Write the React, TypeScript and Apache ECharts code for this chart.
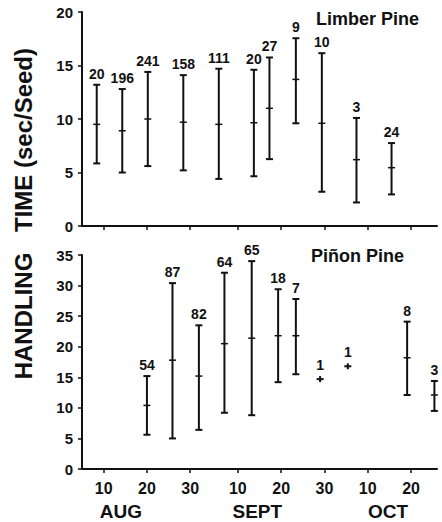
import React, { useEffect, useRef } from "react";
import * as echarts from "echarts";

// x values are days counted from 31 July (Aug 10 = 10, Sep 10 = 41, Oct 10 = 71)
const TICK_DAYS = [10, 20, 30, 41, 51, 61, 71, 81];
const TICK_LABELS = ["10", "20", "30", "10", "20", "30", "10", "20"];
const MONTH_DAYS = [14, 45.5, 75.7];
const MONTH_LABELS = ["AUG", "SEPT", "OCT"];

const LIMBER_DAY = [8.4, 14.3, 20.2, 28.4, 36.6, 44.7, 48.3, 54.4, 60.4, 68.4, 76.5];
const LIMBER_N = [20, 196, 241, 158, 111, 20, 27, 9, 10, 3, 24];
const LIMBER_MEAN = [9.5, 8.9, 10.0, 9.7, 9.5, 9.65, 11.0, 13.7, 9.6, 6.2, 5.45];
const LIMBER_LOW = [5.85, 5.0, 5.6, 5.2, 4.4, 4.65, 6.25, 9.6, 3.2, 2.2, 2.95];
const LIMBER_HIGH = [13.2, 12.8, 14.4, 14.1, 14.7, 14.6, 15.75, 17.55, 16.15, 10.1, 7.75];

const PINON_DAY = [20.0, 25.9, 32.0, 37.9, 44.2, 50.3, 54.4, 60.0, 66.4, 80.1, 86.4];
const PINON_N = [54, 87, 82, 64, 65, 18, 7, 1, 1, 8, 3];
const PINON_MEAN = [10.4, 17.8, 15.2, 20.5, 21.4, 21.8, 21.8, 14.7, 16.8, 18.2, 12.1];
const PINON_LOW = [5.6, 5.0, 6.4, 9.2, 8.8, 14.2, 15.5, null, null, 12.1, 9.5];
const PINON_HIGH = [15.2, 30.4, 23.5, 32.1, 34.0, 29.4, 27.8, null, null, 24.1, 14.4];

const FONT = '"Liberation Sans", Arial, Helvetica, sans-serif';
const INK = "#111";

function makeRender(
  days: number[],
  mean: number[],
  low: (number | null)[],
  high: (number | null)[],
  ns: number[]
) {
  return (params: any, api: any) => {
    const i = params.dataIndex;
    const m = api.coord([days[i], mean[i]]);
    const cx = m[0];
    const children: any[] = [];
    const line = (x1: number, y1: number, x2: number, y2: number, w: number) => ({
      type: "line",
      shape: { x1, y1, x2, y2 },
      style: { stroke: INK, lineWidth: w },
    });
    let topY: number;
    if (low[i] == null || high[i] == null) {
      children.push(line(cx - 3.5, m[1], cx + 3.5, m[1], 2));
      children.push(line(cx, m[1] - 3, cx, m[1] + 3, 2));
      topY = m[1] - 3;
    } else {
      const lo = api.coord([days[i], low[i]]);
      const hi = api.coord([days[i], high[i]]);
      children.push(line(cx, hi[1], cx, lo[1], 2));
      children.push(line(cx - 3.5, hi[1], cx + 3.5, hi[1], 2));
      children.push(line(cx - 3.5, lo[1], cx + 3.5, lo[1], 2));
      children.push(line(cx - 3.5, m[1], cx + 3.5, m[1], 1.5));
      topY = hi[1];
    }
    children.push({
      type: "text",
      x: cx,
      y: topY - 4,
      style: {
        text: String(ns[i]),
        fill: INK,
        font: `bold 14px ${FONT}`,
        align: "center",
        verticalAlign: "bottom",
      },
    });
    return { type: "group", children };
  };
}

export default function App() {
  const ref = useRef<HTMLDivElement>(null);
  useEffect(() => {
    if (!ref.current) return;
    const chart = echarts.init(ref.current, undefined, { renderer: "svg" });
    const axisLine = { show: true, lineStyle: { color: INK, width: 2 } };
    const xBase = {
      type: "value" as const,
      min: 5,
      max: 87,
      axisLine: { ...axisLine, onZero: false },
      splitLine: { show: false },
      axisTick: {
        show: true,
        inside: false,
        length: 4,
        customValues: TICK_DAYS,
        lineStyle: { color: INK, width: 1.5 },
      },
    };
    const yBase = {
      type: "value" as const,
      min: 0,
      interval: 5,
      axisLine,
      splitLine: { show: false },
      axisTick: { show: true, inside: false, length: 4, lineStyle: { color: INK, width: 1.5 } },
      axisLabel: { color: INK, fontSize: 15, fontWeight: "bold", fontFamily: FONT, margin: 9 },
    };
    chart.setOption({
      animation: false,
      backgroundColor: "#fff",
      grid: [
        { left: 82, top: 12, width: 355, height: 214 },
        { left: 82, top: 255, width: 355, height: 214 },
      ],
      title: [
        {
          text: "Limber Pine",
          left: 316,
          top: 10,
          padding: 0,
          textStyle: { color: INK, fontSize: 18, fontWeight: "bold", fontFamily: FONT },
        },
        {
          text: "Piñon Pine",
          left: 311,
          top: 247,
          padding: 0,
          textStyle: { color: INK, fontSize: 18, fontWeight: "bold", fontFamily: FONT },
        },
      ],
      xAxis: [
        { ...xBase, gridIndex: 0, axisLabel: { show: false } },
        {
          ...xBase,
          gridIndex: 1,
          axisLabel: {
            show: true,
            customValues: TICK_DAYS,
            formatter: (v: number) => TICK_LABELS[TICK_DAYS.indexOf(v)] ?? "",
            color: INK,
            fontSize: 16,
            fontWeight: "bold",
            fontFamily: FONT,
            margin: 11,
          },
        },
        {
          type: "value",
          gridIndex: 1,
          min: 5,
          max: 87,
          position: "bottom",
          axisLine: { show: false },
          axisTick: { show: false },
          splitLine: { show: false },
          axisLabel: {
            show: true,
            customValues: MONTH_DAYS,
            formatter: (v: number) => MONTH_LABELS[MONTH_DAYS.indexOf(v)] ?? "",
            color: INK,
            fontSize: 19,
            fontWeight: "bold",
            fontFamily: FONT,
            margin: 33,
          },
        },
      ],
      yAxis: [
        { ...yBase, gridIndex: 0, max: 20 },
        { ...yBase, gridIndex: 1, max: 35 },
      ],
      graphic: [
        {
          type: "text",
          x: 23,
          y: 140,
          rotation: Math.PI / 2,
          style: {
            text: "TIME (sec/Seed)",
            fill: INK,
            font: `bold 24px ${FONT}`,
            align: "center",
            verticalAlign: "middle",
          },
        },
        {
          type: "text",
          x: 23,
          y: 316,
          rotation: Math.PI / 2,
          style: {
            text: "HANDLING",
            fill: INK,
            font: `bold 24px ${FONT}`,
            align: "center",
            verticalAlign: "middle",
          },
        },
      ],
      series: [
        {
          type: "custom",
          xAxisIndex: 0,
          yAxisIndex: 0,
          clip: false,
          renderItem: makeRender(LIMBER_DAY, LIMBER_MEAN, LIMBER_LOW, LIMBER_HIGH, LIMBER_N),
          encode: { x: 0, y: 1 },
          data: LIMBER_DAY.map((d, i) => [d, LIMBER_MEAN[i]]),
        },
        {
          type: "custom",
          xAxisIndex: 1,
          yAxisIndex: 1,
          clip: false,
          renderItem: makeRender(PINON_DAY, PINON_MEAN, PINON_LOW, PINON_HIGH, PINON_N),
          encode: { x: 0, y: 1 },
          data: PINON_DAY.map((d, i) => [d, PINON_MEAN[i]]),
        },
      ],
    });
    return () => chart.dispose();
  }, []);
  return (
    <div
      ref={ref}
      style={{ position: "absolute", left: 0, top: 0, width: 442, height: 522, background: "#fff" }}
    />
  );
}
